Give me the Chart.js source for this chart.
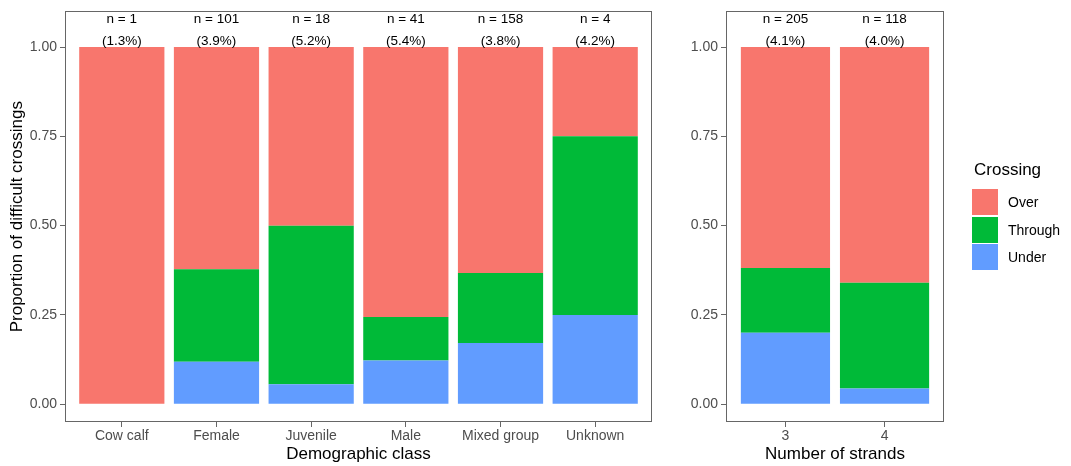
<!DOCTYPE html>
<html>
<head>
<meta charset="utf-8">
<script src="https://cdn.jsdelivr.net/npm/chart.js@4"></script>
<style>
  body { margin: 0; background: #fff; font-family: "Liberation Sans", Arial, sans-serif; }
  #wrap { position: relative; width: 1071px; height: 466px; }
  #left { position: absolute; left: 0; top: 0; }
  #right { position: absolute; left: 660px; top: 0; }
  #legend { position: absolute; left: 972px; top: 160px; }
  #legend .title { font-size: 17px; color: #000; margin-bottom: 9px; margin-left: 2px; }
  #legend .item { display: flex; align-items: center; height: 26px; margin-bottom: 1.5px; }
  #legend .box { width: 26px; height: 26px; margin-right: 10px; }
  #legend .lab { font-size: 14px; color: #000; }
</style>
</head>
<body>
<div id="wrap">
  <canvas id="left" width="660" height="466"></canvas>
  <canvas id="right" width="411" height="466"></canvas>
  <div id="legend"></div>
</div>
<script>
// series names and colours (stack order: bottom first)
const seriesNames = ['Under', 'Through', 'Over'];
const seriesColors = ['#619CFF', '#00BA38', '#F8766D'];

// demographic class panel
const demoCats = ['Cow calf', 'Female', 'Juvenile', 'Male', 'Mixed group', 'Unknown'];
const demoUnder = [0, 0.119, 0.056, 0.122, 0.171, 0.25];
const demoThrough = [0, 0.259, 0.444, 0.122, 0.196, 0.5];
const demoOver = [1, 0.622, 0.5, 0.756, 0.633, 0.25];
const demoN = [1, 101, 18, 41, 158, 4];
const demoPct = [1.3, 3.9, 5.2, 5.4, 3.8, 4.2];

// number of strands panel
const strandCats = ['3', '4'];
const strandUnder = [0.2, 0.044];
const strandThrough = [0.181, 0.296];
const strandOver = [0.619, 0.66];
const strandN = [205, 118];
const strandPct = [4.1, 4.0];

const yTicks = [0, 0.25, 0.5, 0.75, 1];

const FONT = '"Liberation Sans", Arial, sans-serif';
const GREY = '#4D4D4D';
const LINE = '#666666';

// draws the panel border and the n / % labels above each bar
const panelPlugin = {
    id: 'panel',
    afterDatasetsDraw(chart, args, opts) {
        const { ctx, chartArea: a } = chart;
        const xs = chart.scales.x, ys = chart.scales.y;
        ctx.save();
        ctx.strokeStyle = LINE;
        ctx.lineWidth = 1;
        ctx.strokeRect(Math.round(a.left) + 0.5, Math.round(a.top) + 0.5,
            Math.round(a.right - a.left) - 1, Math.round(a.bottom - a.top) - 1);
        ctx.fillStyle = '#000';
        ctx.font = '13.5px ' + FONT;
        ctx.textAlign = 'center';
        ctx.textBaseline = 'middle';
        opts.n.forEach((n, i) => {
            const x = xs.getPixelForValue(i + 1);
            ctx.fillText('n = ' + n, x, ys.getPixelForValue(1.078));
            ctx.fillText('(' + opts.pct[i].toFixed(1) + '%)', x, ys.getPixelForValue(1.017));
        });
        ctx.restore();
    }
};

function makeChart(id, cats, under, through, over, n, pct, xTitle, yTitle, leftW, rightPad) {
    const values = [under, through, over];
    return new Chart(document.getElementById(id), {
        type: 'bar',
        data: {
            datasets: values.map((vals, s) => ({
                label: seriesNames[s],
                data: vals.map((v, i) => ({ x: i + 1, y: v })),
                backgroundColor: seriesColors[s],
                borderWidth: 0,
                barPercentage: 0.9,
                categoryPercentage: 1
            }))
        },
        options: {
            responsive: false,
            animation: false,
            layout: { padding: { top: 7, right: rightPad, left: 0, bottom: 0 } },
            plugins: {
                legend: { display: false },
                tooltip: { enabled: false },
                panel: { n: n, pct: pct }
            },
            scales: {
                x: {
                    type: 'linear',
                    stacked: true,
                    offset: false,
                    min: 0.4,
                    max: cats.length + 0.6,
                    afterBuildTicks: s => { s.ticks = cats.map((c, i) => ({ value: i + 1 })); },
                    afterFit: s => { s.height = 44; },
                    border: { display: false },
                    grid: { offset: false, drawOnChartArea: false, drawTicks: true, tickLength: 5, color: LINE },
                    ticks: {
                        callback: (v) => cats[Math.round(v) - 1],
                        color: GREY, font: { family: FONT, size: 14 }, padding: 1,
                        maxRotation: 0, autoSkip: false
                    },
                    title: {
                        display: true, text: xTitle, color: '#000',
                        font: { family: FONT, size: 17 }, padding: { top: 0, bottom: 1 }
                    }
                },
                y: {
                    stacked: true,
                    min: -0.05,
                    max: 1.1,
                    afterBuildTicks: s => { s.ticks = yTicks.map(v => ({ value: v })); },
                    afterFit: s => { s.width = leftW; },
                    border: { display: false },
                    grid: { drawOnChartArea: false, drawTicks: true, tickLength: 5, color: LINE },
                    ticks: {
                        callback: v => v.toFixed(2),
                        color: GREY, font: { family: FONT, size: 14 }, padding: 3
                    },
                    title: {
                        display: !!yTitle, text: yTitle, color: '#000',
                        font: { family: FONT, size: 17 }, padding: { top: 7, bottom: 0 }
                    }
                }
            }
        },
        plugins: [panelPlugin]
    });
}

makeChart('left', demoCats, demoUnder, demoThrough, demoOver, demoN, demoPct,
    'Demographic class', 'Proportion of difficult crossings', 65, 8);
makeChart('right', strandCats, strandUnder, strandThrough, strandOver, strandN, strandPct,
    'Number of strands', '', 66, 127);

// legend (top to bottom: Over, Through, Under)
const legend = document.getElementById('legend');
legend.innerHTML = '<div class="title">Crossing</div>' +
    seriesNames.map((name, i) => ({ name, color: seriesColors[i] })).reverse()
        .map(s => '<div class="item"><div class="box" style="background:' + s.color +
            '"></div><span class="lab">' + s.name + '</span></div>').join('');
</script>
</body>
</html>
